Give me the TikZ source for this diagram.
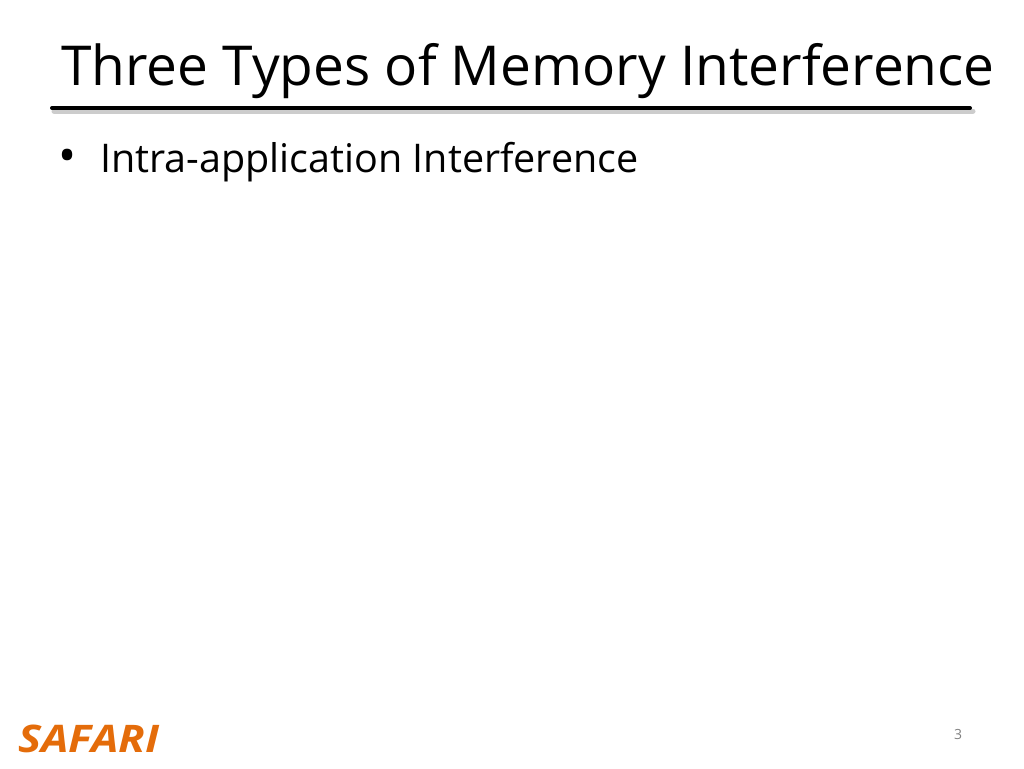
\documentclass[tikz,border=0pt]{standalone}
\usepackage{fontspec}
\setmainfont{Open Sans}[Ligatures=NoCommon]
\usetikzlibrary{positioning}
\definecolor{safari}{RGB}{228,108,10}
\tikzset{
  title/.style={anchor=base west, inner sep=0pt, font=\fontsize{55}{55}\selectfont},
  bullet/.style={anchor=base west, inner sep=0pt, font=\fontsize{39.5}{40}\selectfont},
  logo/.style={anchor=base west, inner sep=0pt, text=safari, xscale=1.15, font=\fontsize{38}{38}\selectfont\bfseries\itshape},
}
\begin{document}
\begin{tikzpicture}[x=1pt, y=-1pt, line cap=round]
  % Rahmen der Folie
  \useasboundingbox (0,0) rectangle (1024,768);

  % Titel und Linie
  \node[title] (titel) at (61,85) {Three Types of Memory Interference};
  \draw[line width=5pt, gray!40] (54,111)--(973,111);
  \draw[line width=4pt] (52,108)--(970,108);

  % Aufzählung
  \node[bullet] (punkt) at (58,172) {\fontsize{48}{48}\selectfont•};
  \node[bullet] (intra) at (100,172) {Intra-application Interference};

  % Fußzeile
  \node[logo] (logo) at (18,752) {SAFARI};
  \node[anchor=base, inner sep=0pt, text=gray, font=\fontsize{14}{14}\selectfont] (seite) at (958,739) {3};
\end{tikzpicture}
\end{document}
